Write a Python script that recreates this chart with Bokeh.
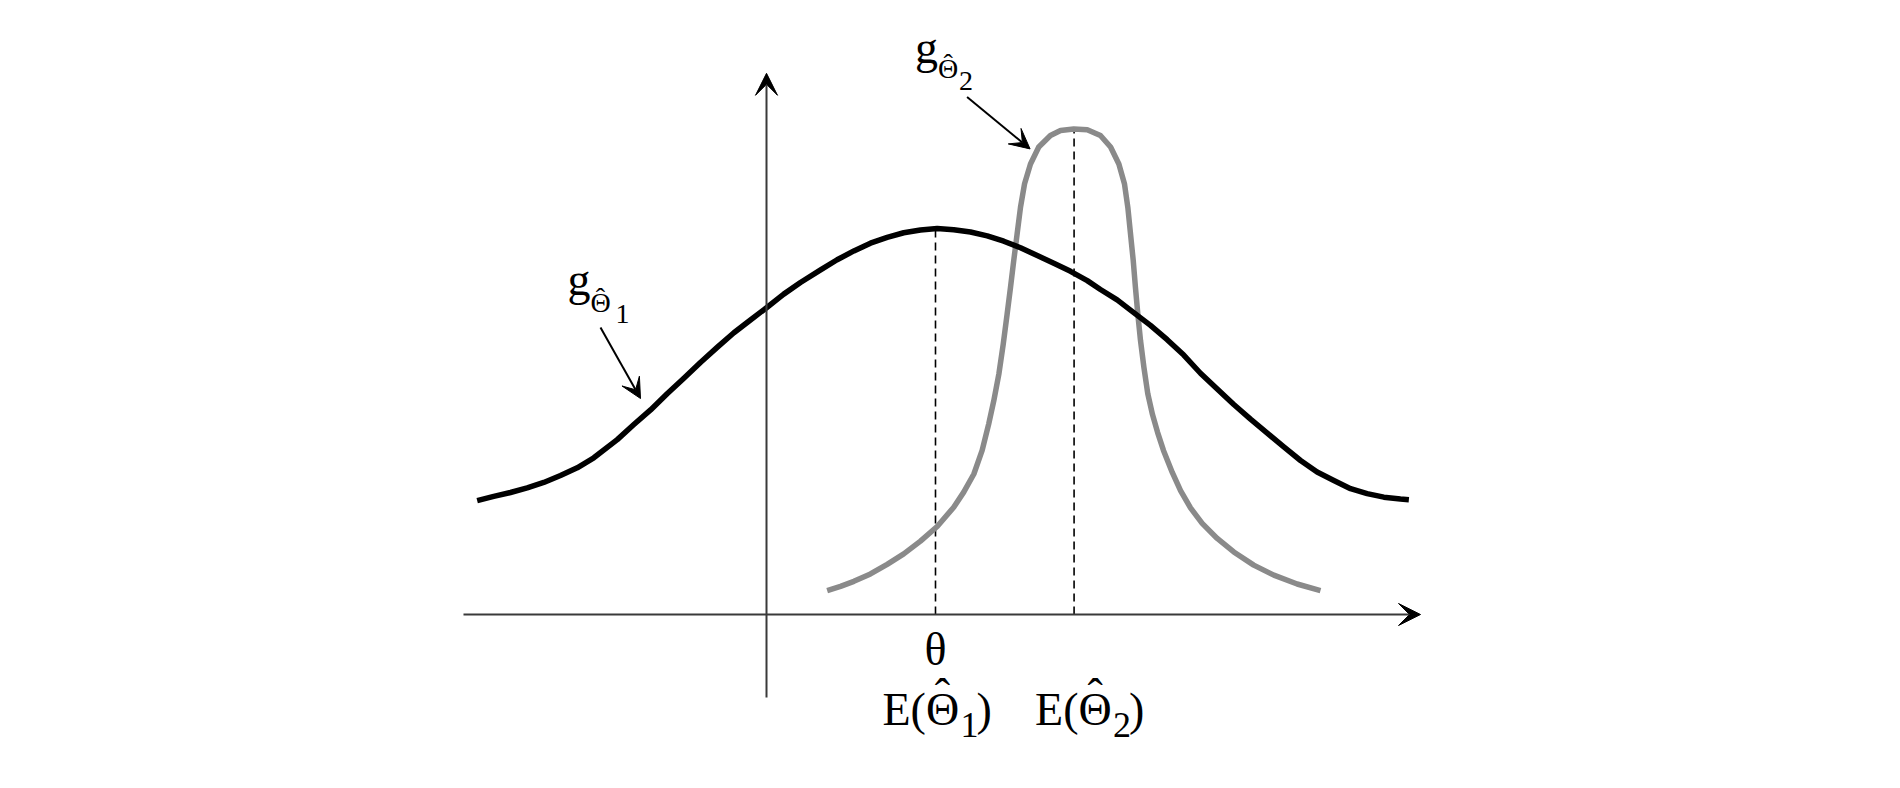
from bokeh.plotting import figure
from bokeh.models import Range1d, Label, Arrow, VeeHead
from bokeh.embed import file_html
from bokeh.resources import INLINE

# ---- data (x in units where theta = 1, y relative to peak of g1) ----
THETA = 1.0
E2 = 1.82

BLACK_X = [-1.712, -1.614, -1.515, -1.416, -1.318, -1.219, -1.120, -1.022, -0.883, -0.785,
           -0.686, -0.588, -0.489, -0.391, -0.292, -0.193, -0.095, 0.004, 0.102, 0.201,
           0.320, 0.418, 0.517, 0.615, 0.714, 0.812, 0.911, 1.010, 1.108, 1.207,
           1.306, 1.404, 1.503, 1.602, 1.700, 1.799, 1.898, 1.976, 2.075, 2.173,
           2.272, 2.371, 2.469, 2.568, 2.667, 2.765, 2.864, 2.963, 3.061, 3.160,
           3.258, 3.357, 3.456, 3.554, 3.653, 3.751, 3.801]
BLACK_Y = [0.295, 0.306, 0.316, 0.328, 0.342, 0.360, 0.380, 0.406, 0.453, 0.492,
           0.530, 0.572, 0.612, 0.653, 0.692, 0.730, 0.763, 0.796, 0.830, 0.860,
           0.893, 0.919, 0.942, 0.962, 0.977, 0.989, 0.996, 1.000, 0.997, 0.991,
           0.981, 0.967, 0.950, 0.930, 0.910, 0.889, 0.865, 0.842, 0.815, 0.782,
           0.749, 0.712, 0.672, 0.625, 0.584, 0.544, 0.506, 0.470, 0.434, 0.399,
           0.369, 0.347, 0.326, 0.313, 0.304, 0.299, 0.297]

GRAY_X = [0.359, 0.438, 0.517, 0.615, 0.714, 0.812, 0.911, 1.010, 1.108, 1.167,
          1.227, 1.276, 1.315, 1.345, 1.375, 1.401, 1.424, 1.444, 1.463, 1.483,
          1.503, 1.527, 1.562, 1.611, 1.680, 1.740, 1.818, 1.898, 1.976, 2.036,
          2.085, 2.118, 2.138, 2.154, 2.170, 2.183, 2.197, 2.213, 2.233, 2.256,
          2.284, 2.314, 2.349, 2.401, 2.450, 2.509, 2.578, 2.667, 2.765, 2.883,
          3.002, 3.140, 3.278]
GRAY_Y = [0.062, 0.073, 0.086, 0.105, 0.130, 0.157, 0.190, 0.228, 0.278, 0.317,
          0.364, 0.425, 0.494, 0.554, 0.623, 0.701, 0.779, 0.848, 0.917, 0.986,
          1.055, 1.116, 1.167, 1.211, 1.241, 1.254, 1.258, 1.256, 1.241, 1.211,
          1.167, 1.116, 1.055, 0.986, 0.917, 0.848, 0.779, 0.710, 0.641, 0.572,
          0.518, 0.472, 0.425, 0.368, 0.321, 0.276, 0.236, 0.197, 0.162, 0.128,
          0.102, 0.079, 0.062]

AXIS_X = [-1.793, 3.870]
AXIS_Y = [-0.215, 1.402]

# ---- geometry ----
W, H = 1884, 772
PX_X, PX_Y = 169.0, 386.0     # pixels per data unit
ORIGIN_PX = (766.0, 614.0)    # canvas position of data origin


def dx(px):
    return px / PX_X


def dy(px):
    return px / PX_Y


p = figure(width=W, height=H, output_backend="svg", toolbar_location=None,
           x_range=Range1d(-ORIGIN_PX[0] / PX_X, (W - ORIGIN_PX[0]) / PX_X),
           y_range=Range1d(-(H - ORIGIN_PX[1]) / PX_Y, ORIGIN_PX[1] / PX_Y),
           min_border=0)
p.axis.visible = False
p.grid.visible = False
p.outline_line_color = None
p.background_fill_color = "white"
p.border_fill_color = "white"

AX_COL = "#3a3a3a"
# axes with arrow heads
p.add_layout(Arrow(x_start=AXIS_X[0], y_start=0, x_end=AXIS_X[1], y_end=0,
                   line_color=AX_COL, line_width=2,
                   end=VeeHead(size=22, fill_color="black", line_color="black", line_width=1)))
p.add_layout(Arrow(x_start=0, y_start=AXIS_Y[0], x_end=0, y_end=AXIS_Y[1],
                   line_color=AX_COL, line_width=2,
                   end=VeeHead(size=22, fill_color="black", line_color="black", line_width=1)))

# dashed reference lines
p.line([THETA, THETA], [0, max(BLACK_Y)], line_color="black", line_width=1.6, line_dash="8 5")
p.line([E2, E2], [0, max(GRAY_Y)], line_color="black", line_width=1.6, line_dash="8 5")

# curves
p.line(GRAY_X, GRAY_Y, line_color="#8a8a8a", line_width=5.5, line_join="round")
p.line(BLACK_X, BLACK_Y, line_color="black", line_width=5.5, line_join="round")

FONT = "Liberation Serif"
BIG = 46
SUB = 36
SMALL = 28
HAT = "\u02c6"


def lab(x, y, text, size=BIG, align="left"):
    # y is the wanted alphabetic baseline; the label box is anchored at its bottom
    p.add_layout(Label(x=x, y=y + dy(0.3 * size), text=text, text_font=FONT,
                       text_font_size=f"{size}px", text_align=align,
                       text_baseline="alphabetic", text_color="black"))


# x-axis labels
lab(THETA, -dy(49), "θ", align="center")
for center, sub, lead in ((THETA, "1", -53), (E2, "2", -39)):
    lab(center + dx(lead), -dy(109), "E(\u0398")
    lab(center + dx(lead + 60), -dy(95), HAT, align="center")
    lab(center + dx(lead + 78), -dy(121), sub, size=SUB)
    lab(center + dx(lead + 94), -dy(109), ")")

# curve labels
G2_TOP = max(GRAY_Y)
lab(E2 - dx(159), G2_TOP + dy(68), "g")
lab(E2 - dx(136), G2_TOP + dy(52), "\u0398", size=SMALL)
lab(E2 - dx(126), G2_TOP + dy(57), HAT, size=SMALL, align="center")
lab(E2 - dx(115), G2_TOP + dy(40), "2", size=SMALL)

lab(-dx(199), dy(321), "g")
lab(-dx(176), dy(304), "\u0398", size=SMALL)
lab(-dx(166), dy(309), HAT, size=SMALL, align="center")
lab(-dx(151), dy(292), "1", size=SMALL)

# pointer arrows
p.add_layout(Arrow(x_start=E2 - dx(107), y_start=G2_TOP + dy(32),
                   x_end=E2 - dx(44), y_end=G2_TOP - dy(20),
                   line_color="black", line_width=2,
                   end=VeeHead(size=20, fill_color="black", line_color="black", line_width=1)))
p.add_layout(Arrow(x_start=-dx(166), y_start=dy(287),
                   x_end=-dx(126), y_end=dy(216),
                   line_color="black", line_width=2,
                   end=VeeHead(size=20, fill_color="black", line_color="black", line_width=1)))

open("out.html", "w").write(file_html(p, INLINE))
